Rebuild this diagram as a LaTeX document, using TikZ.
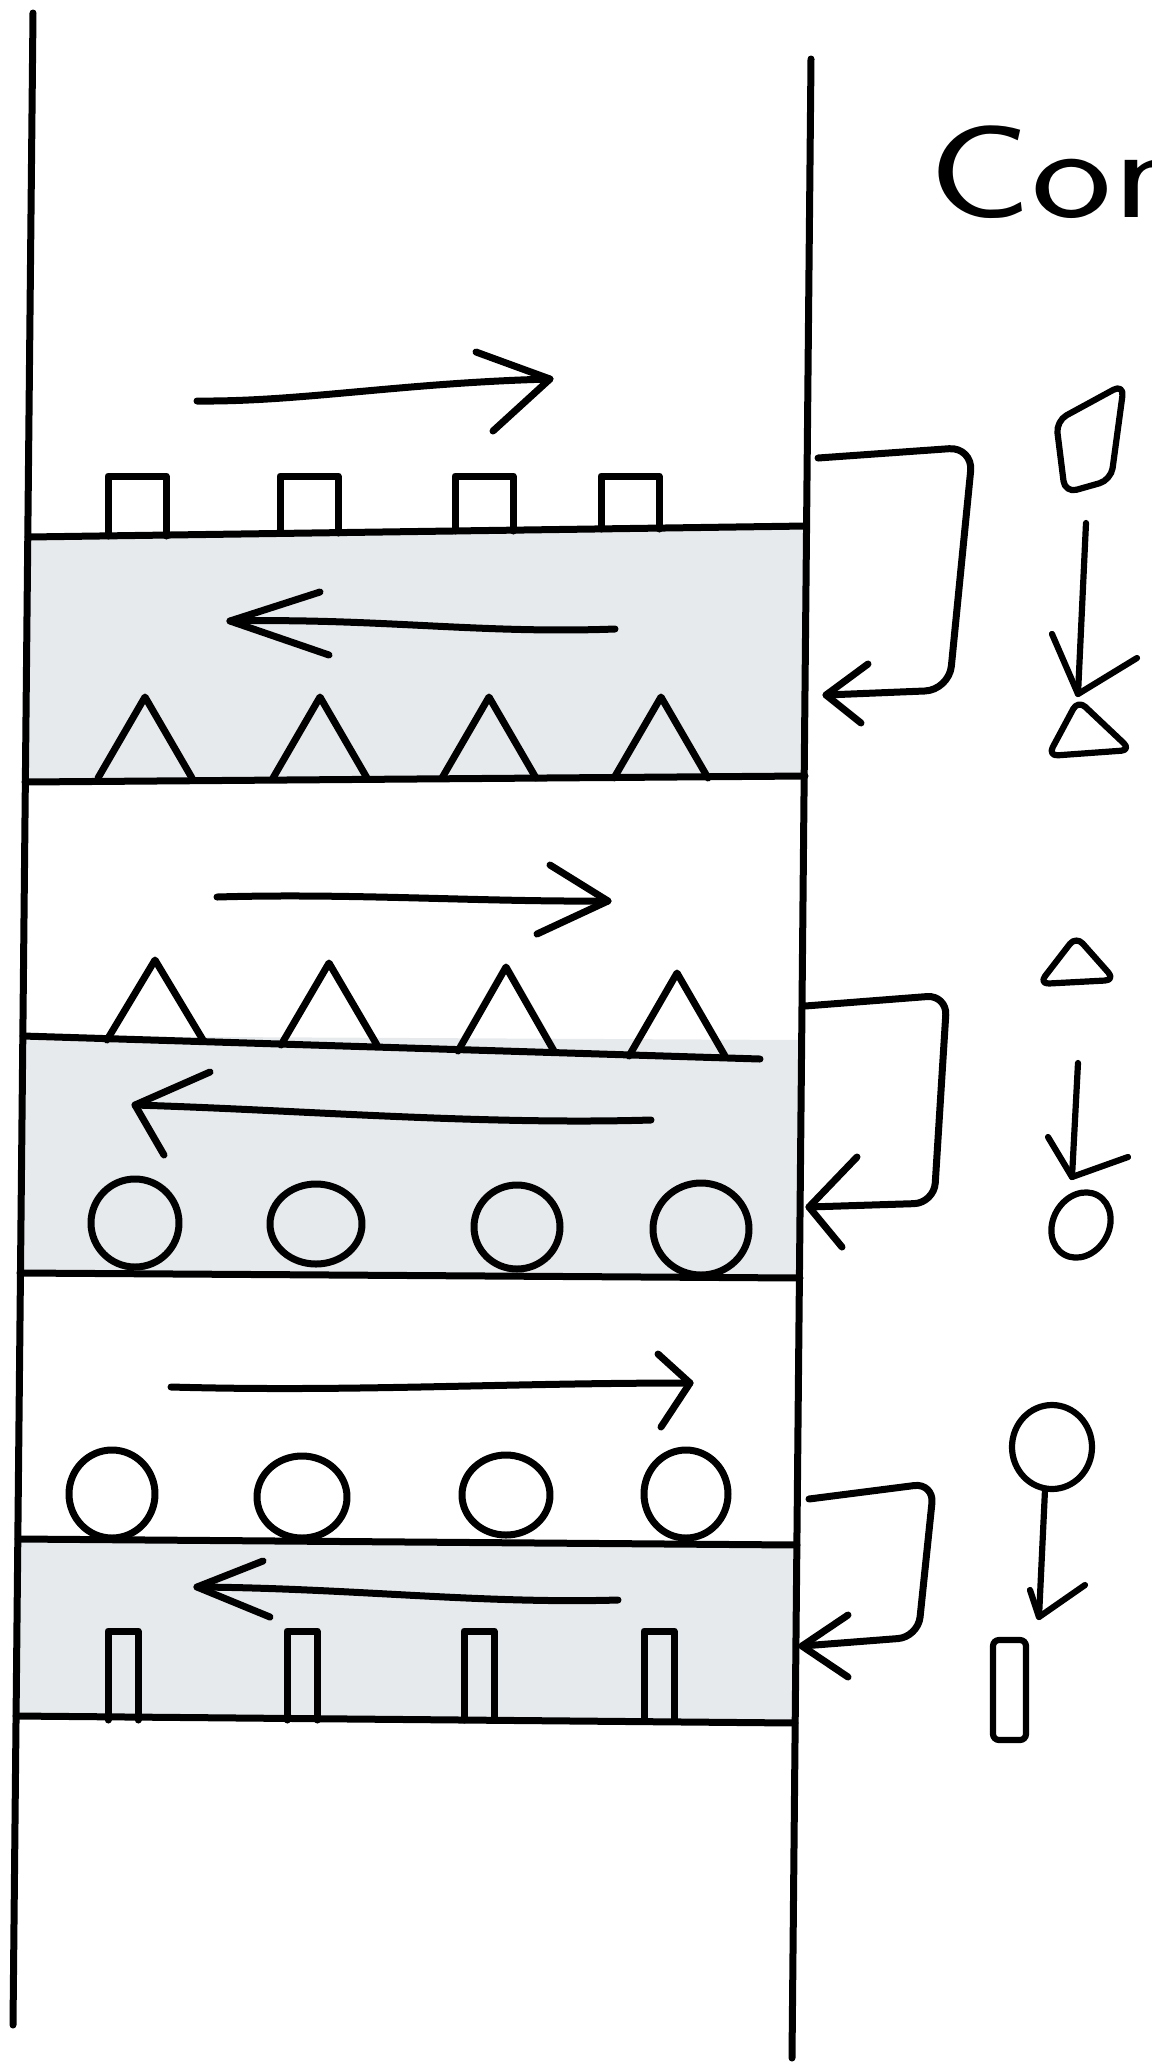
\documentclass[tikz,border=0pt]{standalone}
\usetikzlibrary{calc}
\definecolor{bandgray}{RGB}{231,234,236}

\begin{document}
\begin{tikzpicture}[
  x=0.5pt, y=-0.5pt,
  ink/.style={line width=3.5pt, line cap=round, line join=round},
  pen/.style={line width=3.1pt, line cap=round, line join=round},
]
\useasboundingbox (0,0) rectangle (1152,2063);

%% shaded layers
\fill[bandgray] (28,537) -- (806,526) -- (805,776) -- (25,782) -- cycle;
\fill[bandgray] (23,1036) -- (802,1040) -- (800,1278) -- (20,1273) -- cycle;
\fill[bandgray] (18,1539) -- (797,1545) -- (795,1723) -- (16,1716) -- cycle;

%% walls
\draw[ink] (33,13) -- (13,2025);
\draw[ink] (811,59) -- (792,2058);

%% layer lines
\draw[ink] (28,537) -- (806,526);
\draw[ink] (25,782) -- (805,776);
\draw[ink] (23,1036) -- (760,1059);
\draw[ink] (20,1273) -- (800,1278);
\draw[ink] (18,1539) -- (797,1545);
\draw[ink] (16,1716) -- (795,1723);

%% layer 1: squares on top, triangles below
\foreach \x/\b in {108/536, 280/533, 455/531, 601/529}
  \draw[ink] (\x,\b) -- (\x,476) -- ++(58,0) -- (\x+58,\b);
\foreach \x in {145, 320, 489, 661}
  \draw[ink] (\x-47,778) -- (\x,697) -- (\x+47,778);

%% layer 2: triangles on top, circles below
\foreach \x/\a/\b in {155/960/1040, 329/963/1045, 506/967/1051, 677/973/1056}
  \draw[ink] (\x-48,\b) -- (\x,\a) -- (\x+48,\b);
\foreach \x/\y/\rx/\ry in {135/1223/44/44, 316/1224/46/40, 517/1227/43/42, 701/1229/48/46}
  \draw[ink] (\x,\y) ellipse[x radius=\rx, y radius=\ry];

%% layer 3: circles on top, tall bars below
\foreach \x/\y/\rx/\ry in {112/1494/43/44, 302/1497/45/41, 506/1495/44/40, 686/1494/42/44}
  \draw[ink] (\x,\y) ellipse[x radius=\rx, y radius=\ry];
\foreach \x in {108, 287, 464, 644}
  \draw[ink] (\x,1720) -- (\x,1631) -- ++(30,0) -- (\x+30,1720);

%% flow arrows
\draw[ink] (197,401) .. controls (300,402) and (400,383) .. (550,379);
\draw[ink] (476,352) -- (550,379) -- (493,431);
\draw[ink] (615,629) .. controls (480,634) and (380,618) .. (230,621);
\draw[ink] (320,592) -- (230,621) -- (329,655);

\draw[ink] (217,897) .. controls (350,893) and (480,902) .. (608,901);
\draw[ink] (550,865) -- (608,901) -- (537,934);
\draw[ink] (651,1120) .. controls (480,1125) and (300,1110) .. (135,1105);
\draw[ink] (210,1072) -- (135,1105) -- (164,1155);

\draw[ink] (171,1387) .. controls (350,1392) and (500,1383) .. (690,1383);
\draw[ink] (658,1354) -- (690,1383) -- (661,1427);
\draw[ink] (618,1600) .. controls (480,1604) and (350,1588) .. (197,1587);
\draw[ink] (263,1561) -- (197,1587) -- (270,1617);

%% return loops on the right wall
\draw[ink, rounded corners=12pt] (818,458) -- (973,447) -- (949,690) -- (826,695);
\draw[ink] (868,664) -- (826,695) -- (861,723);
\draw[ink, rounded corners=10pt] (805,1006) -- (947,995) -- (934,1203) -- (809,1207);
\draw[ink] (857,1157) -- (809,1207) -- (842,1247);
\draw[ink, rounded corners=10pt] (809,1499) -- (934,1483) -- (918,1637) -- (802,1646);
\draw[ink] (848,1615) -- (802,1646) -- (848,1677);

%% legend
\node[anchor=base west, inner sep=0pt, font=\sffamily\fontsize{66}{66}\selectfont] (con) at (928,217) {\scalebox{1.3}[1]{Con}};

\draw[pen, rounded corners=6pt] (1056,421) -- (1124,384) -- (1111,480) -- (1065,493) -- cycle;
\draw[pen] (1086,523) -- (1078,694);
\draw[pen] (1052,634) -- (1078,694) -- (1137,658);
\draw[pen, rounded corners=5pt] (1078,700) -- (1131,750) -- (1048,756) -- cycle;

\draw[pen, rounded corners=5pt] (1076,936) -- (1115,980) -- (1039,984) -- cycle;
\draw[pen] (1078,1063) -- (1072,1177);
\draw[pen] (1048,1137) -- (1072,1177) -- (1128,1157);
\draw[pen] (1081,1225) ellipse[x radius=28, y radius=34, rotate=-30];

\draw[pen] (1052,1447) ellipse[x radius=40, y radius=42];
\draw[pen] (1045,1490) -- (1039,1617);
\draw[pen] (1030,1590) -- (1039,1617) -- (1085,1585);
\draw[pen, rounded corners=3pt] (993,1640) rectangle (1026,1740);
\end{tikzpicture}
\end{document}
